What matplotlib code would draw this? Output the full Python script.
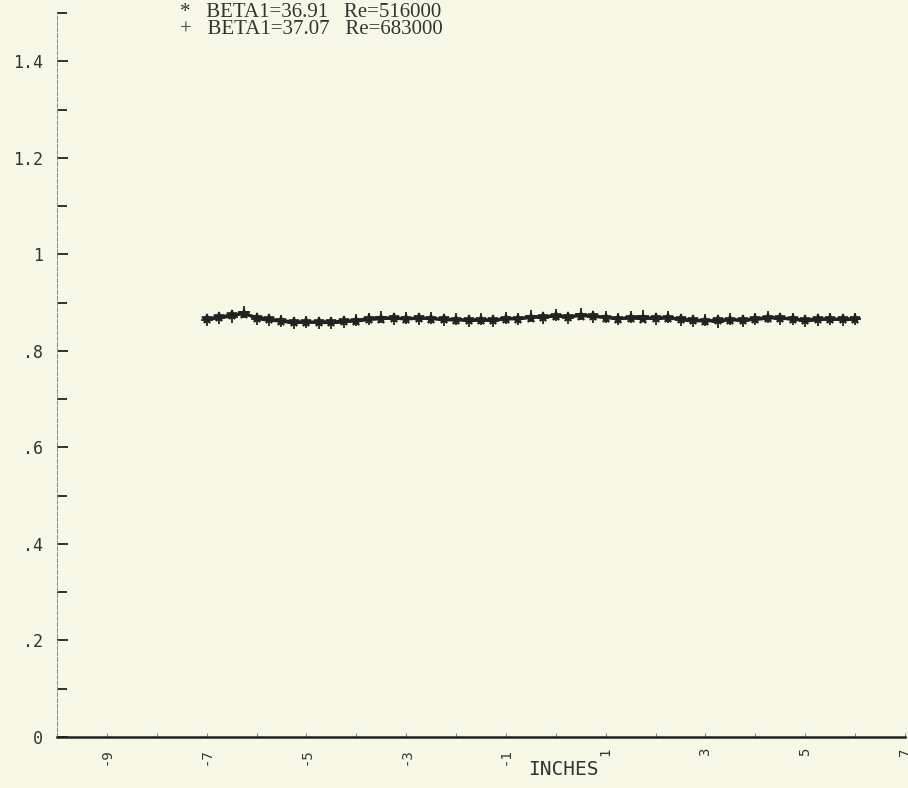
import matplotlib
matplotlib.use("Agg")
import matplotlib.pyplot as plt
from matplotlib.ticker import FixedLocator, MultipleLocator

# Posiciones (pulgadas) y valores
pos = [-7.0, -6.75, -6.5, -6.25, -6.0, -5.75, -5.5, -5.25, -5.0, -4.75,
       -4.5, -4.25, -4.0, -3.75, -3.5, -3.25, -3.0, -2.75, -2.5, -2.25,
       -2.0, -1.75, -1.5, -1.25, -1.0, -0.75, -0.5, -0.25, 0.0, 0.25,
       0.5, 0.75, 1.0, 1.25, 1.5, 1.75, 2.0, 2.25, 2.5, 2.75,
       3.0, 3.25, 3.5, 3.75, 4.0, 4.25, 4.5, 4.75, 5.0, 5.25,
       5.5, 5.75, 6.0]

beta_3691 = [0.866, 0.870, 0.874, 0.877, 0.869, 0.866, 0.862, 0.860, 0.859, 0.860,
             0.860, 0.861, 0.862, 0.865, 0.867, 0.868, 0.866, 0.868, 0.867, 0.865,
             0.864, 0.864, 0.863, 0.864, 0.866, 0.867, 0.869, 0.871, 0.872, 0.871,
             0.873, 0.872, 0.869, 0.867, 0.868, 0.867, 0.868, 0.868, 0.866, 0.863,
             0.862, 0.863, 0.864, 0.864, 0.865, 0.868, 0.869, 0.865, 0.864, 0.866,
             0.865, 0.866, 0.865]

beta_3707 = [0.864, 0.868, 0.871, 0.880, 0.866, 0.863, 0.861, 0.857, 0.860, 0.858,
             0.858, 0.859, 0.864, 0.867, 0.870, 0.866, 0.869, 0.865, 0.869, 0.863,
             0.866, 0.862, 0.865, 0.862, 0.868, 0.865, 0.872, 0.869, 0.875, 0.869,
             0.876, 0.870, 0.871, 0.865, 0.870, 0.872, 0.865, 0.870, 0.864, 0.861,
             0.864, 0.860, 0.866, 0.862, 0.867, 0.870, 0.866, 0.867, 0.861, 0.864,
             0.867, 0.863, 0.866]

etiquetas_y = ["0", ".2", ".4", ".6", ".8", "1", "1.2", "1.4"]
valores_y = [0, 0.2, 0.4, 0.6, 0.8, 1.0, 1.2, 1.4]
valores_x = [-9, -7, -5, -3, -1, 1, 3, 5, 7]

FONDO = "#f8f8e6"
TINTA = "#222222"

fig = plt.figure(figsize=(9.08, 7.88), dpi=100, facecolor=FONDO)
ax = fig.add_axes([57 / 908, 51 / 788, 848 / 908, 724 / 788], facecolor=FONDO)

ax.plot(pos, beta_3691, color=TINTA, lw=2.4, marker="*", ms=7, mew=1.2)
ax.plot(pos, beta_3707, color=TINTA, lw=1.8, marker="+", ms=8, mew=1.3)

ax.set_xlim(-10, 7)
ax.set_ylim(0, 1.5)

# Ejes
for lado in ["top", "right"]:
    ax.spines[lado].set_visible(False)
ax.spines["left"].set_linestyle((0, (4, 2)))
ax.spines["left"].set_linewidth(0.7)
ax.spines["left"].set_color("#888888")
ax.spines["bottom"].set_linewidth(1.8)
ax.spines["bottom"].set_color(TINTA)

ax.yaxis.set_major_locator(FixedLocator(valores_y))
ax.yaxis.set_minor_locator(MultipleLocator(0.1))
ax.set_yticklabels(etiquetas_y, family="DejaVu Sans Mono", fontsize=12, color="#333333")
ax.tick_params(axis="y", which="major", direction="in", length=8, width=1.3,
               color=TINTA, pad=10)
ax.tick_params(axis="y", which="minor", direction="in", length=7, width=1.3,
               color=TINTA)

ax.xaxis.set_major_locator(FixedLocator(valores_x))
ax.xaxis.set_minor_locator(MultipleLocator(1))
ax.set_xticklabels([str(v) for v in valores_x], family="DejaVu Sans Mono",
                   fontsize=10, color="#333333", rotation=90)
ax.tick_params(axis="x", which="both", direction="in", length=3, width=0.8,
               color="#888888", pad=8)

ax.text(0.555, -0.045, "INCHES", transform=ax.transAxes, ha="left", va="center",
        family="DejaVu Sans Mono", fontsize=14, color="#333333")

# Leyenda escrita a mano como en el original
leyenda = "*   BETA1=36.91   Re=516000\n+   BETA1=37.07   Re=683000"
fig.text(180 / 908, 1 - 3 / 788, leyenda, ha="left", va="top",
         family="Liberation Serif", fontsize=15, color="#333333", linespacing=0.85)

fig.savefig("out.png", dpi=100, facecolor=FONDO)
